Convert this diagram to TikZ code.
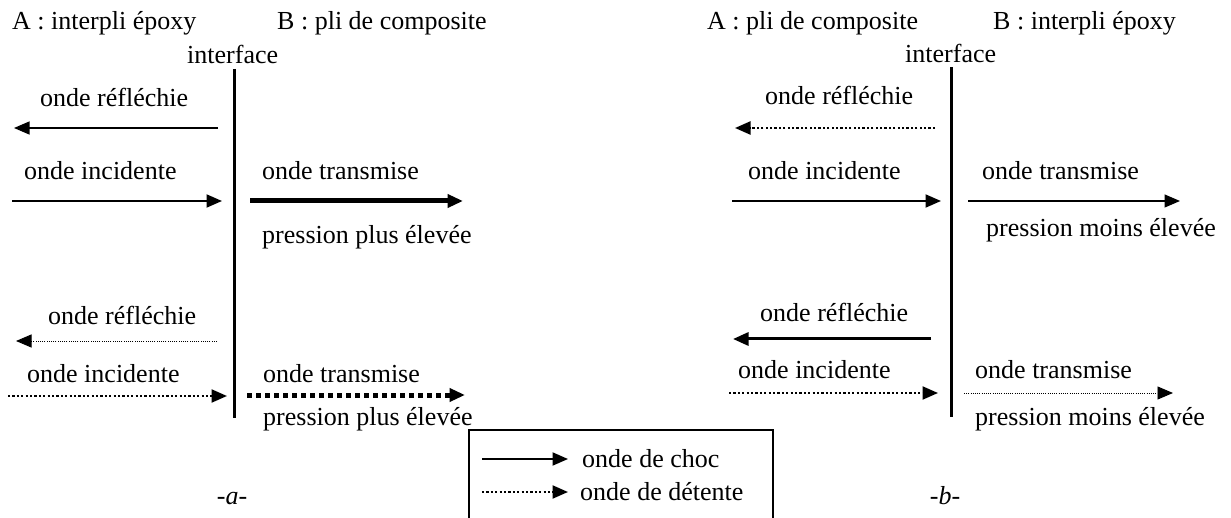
\documentclass[tikz,border=0pt]{standalone}
\usepackage{fontspec}
\setmainfont{Liberation Serif}
\usetikzlibrary{arrows.meta}

\tikzset{
  texte/.style={anchor=base west, inner sep=0pt, font=\fontsize{26}{30}\selectfont},
  onde/.style={-{Triangle[length=15.5pt,width=13pt]}},
  choc/.style={onde, line width=2pt},
  chocfin/.style={onde, line width=1.3pt},
  chocfort/.style={onde, line width=5pt},
  detente/.style={onde, line width=2.2pt, dash pattern=on 2.2pt off 2.2pt},
  detentefin/.style={onde, line width=0.9pt, dash pattern=on 1pt off 1.2pt},
  detentefort/.style={onde, line width=5pt, dash pattern=on 5pt off 4pt},
  interf/.style={line width=3pt}
}

\begin{document}
\begin{tikzpicture}[x=1pt,y=-1pt]
  \useasboundingbox (0,0) rectangle (1231,518);
  \clip (0,0) rectangle (1231,518);

  % Cas a : interpli epoxy / pli de composite
  \node[texte] (Aa) at (12,30) {A : interpli époxy};
  \node[texte] (Ba) at (277,30) {B : pli de composite};
  \node[texte] (Ia) at (187,64) {interface};
  \coordinate (Ha) at (234,69);
  \coordinate (Ka) at (234,418);
  \draw[interf] (Ha) -- (Ka);

  % Onde de choc incidente
  \node[texte] (ra1) at (40,107) {onde réfléchie};
  \coordinate (ra1d) at (218,128);
  \coordinate (ra1f) at (14,128);
  \draw[chocfin] (ra1d) -- (ra1f);
  \node[texte] (ia1) at (24,180) {onde incidente};
  \coordinate (ia1d) at (12,201);
  \coordinate (ia1f) at (222,201);
  \draw[choc] (ia1d) -- (ia1f);
  \node[texte] (ta1) at (262,180) {onde transmise};
  \coordinate (ta1d) at (250,201);
  \coordinate (ta1f) at (463,201);
  \draw[chocfort] (ta1d) -- (ta1f);
  \node[texte] (pa1) at (262,244) {pression plus élevée};

  % Onde de detente incidente
  \node[texte] (ra2) at (48,325) {onde réfléchie};
  \coordinate (ra2d) at (217,341);
  \coordinate (ra2f) at (16,341);
  \draw[detentefin] (ra2d) -- (ra2f);
  \node[texte] (ia2) at (27,382) {onde incidente};
  \coordinate (ia2d) at (8,396);
  \coordinate (ia2f) at (227,396);
  \draw[detente] (ia2d) -- (ia2f);
  \node[texte] (ta2) at (263,382) {onde transmise};
  \coordinate (ta2d) at (247,395);
  \coordinate (ta2f) at (465,395);
  \draw[detentefort] (ta2d) -- (ta2f);
  \node[texte] (pa2) at (263,425) {pression plus élevée};

  \node[texte, anchor=base, font=\fontsize{26}{30}\selectfont\itshape] (la) at (232,504) {-a-};

  % Cas b : pli de composite / interpli epoxy
  \node[texte] (Ab) at (707,30) {A : pli de composite};
  \node[texte] (Bb) at (993,30) {B : interpli époxy};
  \node[texte] (Ib) at (905,63) {interface};
  \coordinate (Hb) at (951,67);
  \coordinate (Kb) at (951,417);
  \draw[interf] (Hb) -- (Kb);

  % Onde de choc incidente
  \node[texte] (rb1) at (765,105) {onde réfléchie};
  \coordinate (rb1d) at (935,128);
  \coordinate (rb1f) at (735,128);
  \draw[detente] (rb1d) -- (rb1f);
  \node[texte] (ib1) at (748,180) {onde incidente};
  \coordinate (ib1d) at (732,201);
  \coordinate (ib1f) at (941,201);
  \draw[choc] (ib1d) -- (ib1f);
  \node[texte] (tb1) at (982,180) {onde transmise};
  \coordinate (tb1d) at (968,201);
  \coordinate (tb1f) at (1180,201);
  \draw[chocfin] (tb1d) -- (tb1f);
  \node[texte] (pb1) at (986,237) {pression moins élevée};

  % Onde de detente incidente
  \node[texte] (rb2) at (760,322) {onde réfléchie};
  \coordinate (rb2d) at (931,339);
  \coordinate (rb2f) at (733,339);
  \draw[onde, line width=3pt] (rb2d) -- (rb2f);
  \node[texte] (ib2) at (738,378) {onde incidente};
  \coordinate (ib2d) at (729,393);
  \coordinate (ib2f) at (938,393);
  \draw[detente] (ib2d) -- (ib2f);
  \node[texte] (tb2) at (975,378) {onde transmise};
  \coordinate (tb2d) at (964,393);
  \coordinate (tb2f) at (1173,393);
  \draw[detentefin] (tb2d) -- (tb2f);
  \node[texte] (pb2) at (975,425) {pression moins élevée};

  \node[texte, anchor=base, font=\fontsize{26}{30}\selectfont\itshape] (lb) at (945,504) {-b-};

  % Legende
  \coordinate (L1) at (469,430);
  \coordinate (L2) at (773,530);
  \draw[line width=1.5pt] (L1) rectangle (L2);
  \coordinate (lc1) at (482,459);
  \coordinate (lc2) at (568,459);
  \draw[choc] (lc1) -- (lc2);
  \node[texte] (tc) at (582,467) {onde de choc};
  \coordinate (ld1) at (482,492);
  \coordinate (ld2) at (568,492);
  \draw[detente] (ld1) -- (ld2);
  \node[texte] (td) at (580,500) {onde de détente};
\end{tikzpicture}
\end{document}
